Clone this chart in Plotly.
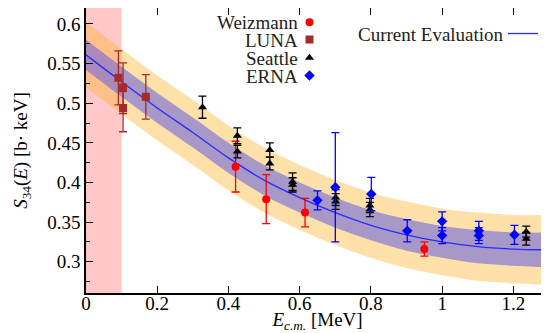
import plotly.graph_objects as go

# ---------------- data ----------------
weiz_E = [0.420, 0.506, 0.615, 0.950]
weiz_S = [0.420, 0.379, 0.362, 0.316]
weiz_err = [0.032, 0.031, 0.018, 0.009]

luna_E = [0.091, 0.104, 0.104, 0.168]
luna_S = [0.532, 0.519, 0.494, 0.508]
luna_err = [0.034, 0.032, 0.030, 0.028]

seattle_E = [0.327, 0.425, 0.425, 0.516, 0.516, 0.580, 0.580, 0.701, 0.701, 0.797, 0.797, 1.236, 1.236]
seattle_S = [0.495, 0.459, 0.439, 0.441, 0.424, 0.401, 0.397, 0.381, 0.376, 0.371, 0.366, 0.338, 0.329]
seattle_err = [0.014, 0.010, 0.008, 0.009, 0.008, 0.011, 0.009, 0.010, 0.010, 0.009, 0.009, 0.007, 0.008]

erna_E = [0.650, 0.700, 0.801, 0.902, 1.000, 1.000, 1.103, 1.103, 1.203]
erna_S = [0.3775, 0.394, 0.3855, 0.339, 0.351, 0.333, 0.339, 0.333, 0.334]
erna_err = [0.012, 0.069, 0.021, 0.014, 0.012, 0.010, 0.012, 0.010, 0.012]

curve_E = [0.0, 0.1, 0.2, 0.3, 0.4, 0.5, 0.6, 0.7, 0.8, 0.9, 1.0, 1.1, 1.2, 1.3]
curve_S = [0.561, 0.527, 0.494, 0.463, 0.431, 0.403, 0.381, 0.362, 0.346, 0.334, 0.325, 0.319, 0.316, 0.315]
inner_hw = [0.019, 0.019, 0.019, 0.019, 0.019, 0.019, 0.019, 0.019, 0.019, 0.020, 0.020, 0.021, 0.021, 0.022]
outer_hw = [0.041, 0.041, 0.041, 0.041, 0.041, 0.041, 0.041, 0.041, 0.041, 0.042, 0.042, 0.043, 0.043, 0.044]

region_E = [0.0, 0.1]

x_ticks = [0, 0.2, 0.4, 0.6, 0.8, 1.0, 1.2]
x_ticktext = ["0", "0.2", "0.4", "0.6", "0.8", "1", "1.2"]
y_ticks = [0.3, 0.35, 0.4, 0.45, 0.5, 0.55, 0.6]
y_ticktext = ["0.3", "0.35", "0.4", "0.45", "0.5", "0.55", "0.6"]

series_names = ["Weizmann", "LUNA", "Seattle", "ERNA"]
curve_name = "Current Evaluation"

FONT = "Liberation Serif"
FS = 19

# ---------------- figure ----------------
fig = go.Figure()

outer_up = [s + h for s, h in zip(curve_S, outer_hw)]
outer_lo = [s - h for s, h in zip(curve_S, outer_hw)]
inner_up = [s + h for s, h in zip(curve_S, inner_hw)]
inner_lo = [s - h for s, h in zip(curve_S, inner_hw)]

fig.add_trace(go.Scatter(x=curve_E, y=outer_up, mode="lines", line=dict(width=0, shape="spline"),
                         showlegend=False, hoverinfo="skip"))
fig.add_trace(go.Scatter(x=curve_E, y=outer_lo, mode="lines", line=dict(width=0, shape="spline"),
                         fill="tonexty", fillcolor="rgba(255,177,38,0.4)", showlegend=False, hoverinfo="skip"))
fig.add_trace(go.Scatter(x=curve_E, y=inner_up, mode="lines", line=dict(width=0, shape="spline"),
                         showlegend=False, hoverinfo="skip"))
fig.add_trace(go.Scatter(x=curve_E, y=inner_lo, mode="lines", line=dict(width=0, shape="spline"),
                         fill="tonexty", fillcolor="rgba(110,104,221,0.6)", showlegend=False, hoverinfo="skip"))
fig.add_trace(go.Scatter(x=curve_E, y=curve_S, mode="lines", name=" ",
                         line=dict(color="#2a2aff", width=1.3, shape="spline"),
                         legend="legend5"))

def add_series(E, S, err, color, symbol, size, leg):
    fig.add_trace(go.Scatter(
        x=E, y=S, mode="markers", name=" ",
        marker=dict(color=color, symbol=symbol, size=size, line=dict(width=0)),
        error_y=dict(type="data", array=err, color=color, thickness=1.3, width=4),
        legend=leg))

add_series(weiz_E, weiz_S, weiz_err, "#ff0000", "circle", 8, "legend")
add_series(luna_E, luna_S, luna_err, "#a52a2a", "square", 8, "legend2")
add_series(seattle_E, seattle_S, seattle_err, "#000000", "triangle-up", 8, "legend3")
add_series(erna_E, erna_S, erna_err, "#0000ff", "diamond", 8, "legend4")

fig.add_shape(type="rect", xref="x", yref="paper", x0=region_E[0], x1=region_E[1], y0=0, y1=1,
              fillcolor="#ffc8c8", line=dict(width=0), layer="below")

# legend labels (text to the left of the keys, as in the reference)
row_y = [0.9484, 0.8877, 0.8235, 0.7614]
for name, yy in zip(series_names, row_y):
    fig.add_annotation(x=0.463, y=yy, xref="paper", yref="paper", text=name, showarrow=False,
                       xanchor="right", yanchor="middle", font=dict(family=FONT, size=FS, color="#222"))
fig.add_annotation(x=0.907, y=0.9053, xref="paper", yref="paper", text=curve_name, showarrow=False,
                   xanchor="right", yanchor="middle", font=dict(family=FONT, size=FS, color="#222"))

axis_common = dict(showline=True, linecolor="black", linewidth=1.5, mirror="allticks",
                   ticks="inside", ticklen=7, tickwidth=1.3, tickcolor="black",
                   showgrid=False, zeroline=False, automargin=False,
                   tickfont=dict(family=FONT, size=FS, color="black"))

leg_common = dict(xanchor="left", yanchor="top", bgcolor="rgba(0,0,0,0)",
                  font=dict(size=10), itemwidth=30)
leg_tops = [1.001, 0.9404, 0.8761, 0.814]
leg_x = 0.4395

fig.update_layout(
    width=541, height=325,
    margin=dict(l=78, r=0, t=0, b=40, autoexpand=False),
    paper_bgcolor="white", plot_bgcolor="white",
    font=dict(family=FONT, color="black"),
    showlegend=True,
    xaxis=dict(range=[0, 1.3], tickvals=x_ticks, ticktext=x_ticktext, ticklabelstandoff=-8,
               title=dict(text="<i>E</i><sub><i>c.m.</i></sub> [MeV]", standoff=0,
                          font=dict(family=FONT, size=FS)),
               **axis_common),
    yaxis=dict(range=[0.2606, 0.6201], tickvals=y_ticks, ticktext=y_ticktext,
               minor=dict(ticks="inside", dtick=0.025, tick0=0.275, ticklen=4, tickcolor="black"),
               title=dict(text="<i>S</i><sub>34</sub>(<i>E</i>) [b· keV]",
                          font=dict(family=FONT, size=FS)),
               **axis_common),
    legend=dict(x=leg_x, y=leg_tops[0], **leg_common),
    legend2=dict(x=leg_x, y=leg_tops[1], **leg_common),
    legend3=dict(x=leg_x, y=leg_tops[2], **leg_common),
    legend4=dict(x=leg_x, y=leg_tops[3], **leg_common),
    legend5=dict(x=0.9007, y=0.9614, **leg_common),
)

fig.write_html("out.html")
